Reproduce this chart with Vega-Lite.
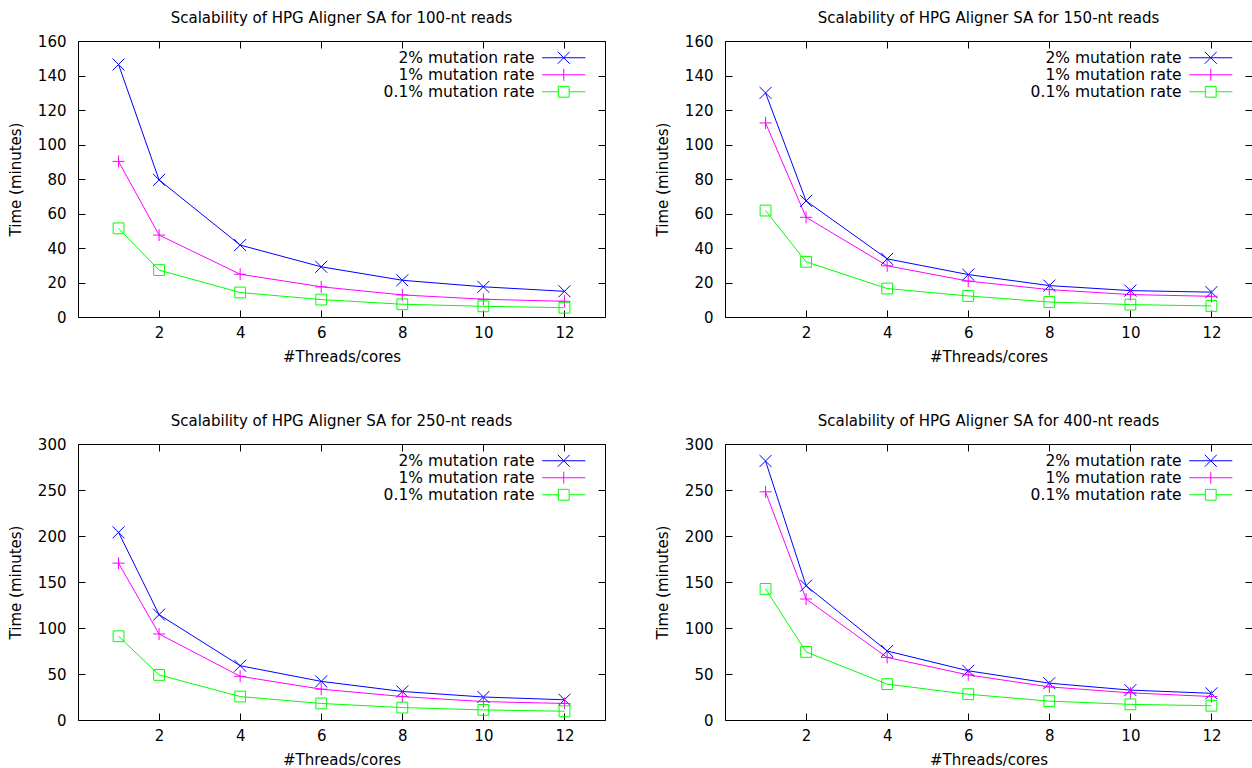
{
  "$schema": "https://vega.github.io/schema/vega-lite/v6.json",
  "padding": {"left": 7, "top": 10, "right": 0, "bottom": 0},
  "autosize": {"type": "pad"},
  "data": {"values": [
    {"reads": 100, "rate": "2% mutation rate", "threads": 1, "minutes": 146.4},
    {"reads": 100, "rate": "2% mutation rate", "threads": 2, "minutes": 79.5},
    {"reads": 100, "rate": "2% mutation rate", "threads": 4, "minutes": 41.7},
    {"reads": 100, "rate": "2% mutation rate", "threads": 6, "minutes": 29.1},
    {"reads": 100, "rate": "2% mutation rate", "threads": 8, "minutes": 21.3},
    {"reads": 100, "rate": "2% mutation rate", "threads": 10, "minutes": 17.5},
    {"reads": 100, "rate": "2% mutation rate", "threads": 12, "minutes": 14.9},
    {"reads": 100, "rate": "1% mutation rate", "threads": 1, "minutes": 90.2},
    {"reads": 100, "rate": "1% mutation rate", "threads": 2, "minutes": 47.5},
    {"reads": 100, "rate": "1% mutation rate", "threads": 4, "minutes": 24.8},
    {"reads": 100, "rate": "1% mutation rate", "threads": 6, "minutes": 17.5},
    {"reads": 100, "rate": "1% mutation rate", "threads": 8, "minutes": 12.8},
    {"reads": 100, "rate": "1% mutation rate", "threads": 10, "minutes": 10.3},
    {"reads": 100, "rate": "1% mutation rate", "threads": 12, "minutes": 9.1},
    {"reads": 100, "rate": "0.1% mutation rate", "threads": 1, "minutes": 51.4},
    {"reads": 100, "rate": "0.1% mutation rate", "threads": 2, "minutes": 27.2},
    {"reads": 100, "rate": "0.1% mutation rate", "threads": 4, "minutes": 14.2},
    {"reads": 100, "rate": "0.1% mutation rate", "threads": 6, "minutes": 10.1},
    {"reads": 100, "rate": "0.1% mutation rate", "threads": 8, "minutes": 7.4},
    {"reads": 100, "rate": "0.1% mutation rate", "threads": 10, "minutes": 6.2},
    {"reads": 100, "rate": "0.1% mutation rate", "threads": 12, "minutes": 5.4},
    {"reads": 150, "rate": "2% mutation rate", "threads": 1, "minutes": 129.9},
    {"reads": 150, "rate": "2% mutation rate", "threads": 2, "minutes": 67.3},
    {"reads": 150, "rate": "2% mutation rate", "threads": 4, "minutes": 33.7},
    {"reads": 150, "rate": "2% mutation rate", "threads": 6, "minutes": 24.6},
    {"reads": 150, "rate": "2% mutation rate", "threads": 8, "minutes": 18.2},
    {"reads": 150, "rate": "2% mutation rate", "threads": 10, "minutes": 15.3},
    {"reads": 150, "rate": "2% mutation rate", "threads": 12, "minutes": 14.4},
    {"reads": 150, "rate": "1% mutation rate", "threads": 1, "minutes": 112.5},
    {"reads": 150, "rate": "1% mutation rate", "threads": 2, "minutes": 57.8},
    {"reads": 150, "rate": "1% mutation rate", "threads": 4, "minutes": 29.7},
    {"reads": 150, "rate": "1% mutation rate", "threads": 6, "minutes": 20.8},
    {"reads": 150, "rate": "1% mutation rate", "threads": 8, "minutes": 15.9},
    {"reads": 150, "rate": "1% mutation rate", "threads": 10, "minutes": 13.0},
    {"reads": 150, "rate": "1% mutation rate", "threads": 12, "minutes": 12.0},
    {"reads": 150, "rate": "0.1% mutation rate", "threads": 1, "minutes": 61.7},
    {"reads": 150, "rate": "0.1% mutation rate", "threads": 2, "minutes": 32.0},
    {"reads": 150, "rate": "0.1% mutation rate", "threads": 4, "minutes": 16.5},
    {"reads": 150, "rate": "0.1% mutation rate", "threads": 6, "minutes": 12.2},
    {"reads": 150, "rate": "0.1% mutation rate", "threads": 8, "minutes": 8.7},
    {"reads": 150, "rate": "0.1% mutation rate", "threads": 10, "minutes": 7.2},
    {"reads": 150, "rate": "0.1% mutation rate", "threads": 12, "minutes": 6.4},
    {"reads": 250, "rate": "2% mutation rate", "threads": 1, "minutes": 204},
    {"reads": 250, "rate": "2% mutation rate", "threads": 2, "minutes": 114.5},
    {"reads": 250, "rate": "2% mutation rate", "threads": 4, "minutes": 59},
    {"reads": 250, "rate": "2% mutation rate", "threads": 6, "minutes": 42},
    {"reads": 250, "rate": "2% mutation rate", "threads": 8, "minutes": 31},
    {"reads": 250, "rate": "2% mutation rate", "threads": 10, "minutes": 25},
    {"reads": 250, "rate": "2% mutation rate", "threads": 12, "minutes": 22},
    {"reads": 250, "rate": "1% mutation rate", "threads": 1, "minutes": 170.5},
    {"reads": 250, "rate": "1% mutation rate", "threads": 2, "minutes": 93.5},
    {"reads": 250, "rate": "1% mutation rate", "threads": 4, "minutes": 47.5},
    {"reads": 250, "rate": "1% mutation rate", "threads": 6, "minutes": 33.5},
    {"reads": 250, "rate": "1% mutation rate", "threads": 8, "minutes": 25.5},
    {"reads": 250, "rate": "1% mutation rate", "threads": 10, "minutes": 20},
    {"reads": 250, "rate": "1% mutation rate", "threads": 12, "minutes": 18},
    {"reads": 250, "rate": "0.1% mutation rate", "threads": 1, "minutes": 91},
    {"reads": 250, "rate": "0.1% mutation rate", "threads": 2, "minutes": 49},
    {"reads": 250, "rate": "0.1% mutation rate", "threads": 4, "minutes": 25.5},
    {"reads": 250, "rate": "0.1% mutation rate", "threads": 6, "minutes": 18},
    {"reads": 250, "rate": "0.1% mutation rate", "threads": 8, "minutes": 13.5},
    {"reads": 250, "rate": "0.1% mutation rate", "threads": 10, "minutes": 11},
    {"reads": 250, "rate": "0.1% mutation rate", "threads": 12, "minutes": 9.5},
    {"reads": 400, "rate": "2% mutation rate", "threads": 1, "minutes": 281.5},
    {"reads": 400, "rate": "2% mutation rate", "threads": 2, "minutes": 146},
    {"reads": 400, "rate": "2% mutation rate", "threads": 4, "minutes": 75},
    {"reads": 400, "rate": "2% mutation rate", "threads": 6, "minutes": 53.5},
    {"reads": 400, "rate": "2% mutation rate", "threads": 8, "minutes": 40},
    {"reads": 400, "rate": "2% mutation rate", "threads": 10, "minutes": 32.5},
    {"reads": 400, "rate": "2% mutation rate", "threads": 12, "minutes": 29},
    {"reads": 400, "rate": "1% mutation rate", "threads": 1, "minutes": 248},
    {"reads": 400, "rate": "1% mutation rate", "threads": 2, "minutes": 131.5},
    {"reads": 400, "rate": "1% mutation rate", "threads": 4, "minutes": 68},
    {"reads": 400, "rate": "1% mutation rate", "threads": 6, "minutes": 49},
    {"reads": 400, "rate": "1% mutation rate", "threads": 8, "minutes": 36},
    {"reads": 400, "rate": "1% mutation rate", "threads": 10, "minutes": 29.5},
    {"reads": 400, "rate": "1% mutation rate", "threads": 12, "minutes": 25.5},
    {"reads": 400, "rate": "0.1% mutation rate", "threads": 1, "minutes": 142.5},
    {"reads": 400, "rate": "0.1% mutation rate", "threads": 2, "minutes": 74},
    {"reads": 400, "rate": "0.1% mutation rate", "threads": 4, "minutes": 39},
    {"reads": 400, "rate": "0.1% mutation rate", "threads": 6, "minutes": 28},
    {"reads": 400, "rate": "0.1% mutation rate", "threads": 8, "minutes": 20.5},
    {"reads": 400, "rate": "0.1% mutation rate", "threads": 10, "minutes": 17},
    {"reads": 400, "rate": "0.1% mutation rate", "threads": 12, "minutes": 15.5}
  ]},
  "columns": 2,
  "spacing": {"row": 127, "column": 120},
  "bounds": "flush",
  "resolve": {"scale": {"x": "independent", "y": "independent", "color": "independent"}, "legend": {"color": "independent"}},
  "concat": [
    {
      "title": "Scalability of HPG Aligner SA for 100-nt reads",
      "width": 527, "height": 276,
      "transform": [{"filter": "datum.reads === 100"}],
      "layer": [
        {"mark": {"type": "line", "strokeWidth": 1},
         "encoding": {
           "x": {"field": "threads", "type": "quantitative", "scale": {"domain": [0, 13], "nice": false, "zero": false}, "axis": {"orient": "bottom", "values": [2, 4, 6, 8, 10, 12], "title": "#Threads/cores"}},
           "y": {"field": "minutes", "type": "quantitative", "scale": {"domain": [0, 160], "nice": false}, "axis": {"orient": "left", "values": [0, 20, 40, 60, 80, 100, 120, 140, 160], "title": "Time (minutes)"}},
           "color": {"field": "rate", "type": "nominal", "scale": {"domain": ["2% mutation rate", "1% mutation rate", "0.1% mutation rate"], "range": ["#0000ff", "#ff00ff", "#00ff00"]},
             "legend": {"title": null, "orient": "top-right", "encode": {"symbols": {"update": {"shape": {"signal": "datum.value === '2% mutation rate' ? 'M-3.6,0L3.6,0M-1,-1L1,1M-1,1L1,-1M4.9,0' : datum.value === '1% mutation rate' ? 'M-3.6,0L3.6,0M0,-1L0,1M4.9,0' : 'M-3.6,0L-0.9,0M0.9,0L3.6,0M-0.9,-0.9L0.9,-0.9L0.9,0.9L-0.9,0.9ZM4.9,0'"}, "stroke": {"signal": "datum.value === '2% mutation rate' ? '#0000ff' : datum.value === '1% mutation rate' ? '#ff00ff' : '#00ff00'"}, "fill": {"value": "transparent"}, "strokeWidth": {"value": 1}, "opacity": {"value": 1}}}}}}
         }},
        {"transform": [{"filter": "datum.rate === '2% mutation rate'"}],
         "mark": {"type": "point", "filled": false, "strokeWidth": 1, "opacity": 1, "size": 144, "shape": "M-1,-1L1,1M-1,1L1,-1"},
         "encoding": {
           "x": {"field": "threads", "type": "quantitative", "axis": {"orient": "top", "values": [2, 4, 6, 8, 10, 12], "labels": false, "title": null}},
           "y": {"field": "minutes", "type": "quantitative", "axis": {"orient": "right", "values": [0, 20, 40, 60, 80, 100, 120, 140, 160], "labels": false, "title": null}},
           "color": {"field": "rate", "type": "nominal", "scale": {"domain": ["2% mutation rate", "1% mutation rate", "0.1% mutation rate"], "range": ["#0000ff", "#ff00ff", "#00ff00"]}, "legend": null}
         }},
        {"transform": [{"filter": "datum.rate === '1% mutation rate'"}],
         "mark": {"type": "point", "filled": false, "strokeWidth": 1, "opacity": 1, "size": 144, "shape": "M-1,0L1,0M0,-1L0,1"},
         "encoding": {
           "x": {"field": "threads", "type": "quantitative", "axis": null},
           "y": {"field": "minutes", "type": "quantitative", "axis": null},
           "color": {"field": "rate", "type": "nominal", "scale": {"domain": ["2% mutation rate", "1% mutation rate", "0.1% mutation rate"], "range": ["#0000ff", "#ff00ff", "#00ff00"]}, "legend": null}
         }},
        {"transform": [{"filter": "datum.rate === '0.1% mutation rate'"}],
         "mark": {"type": "point", "filled": false, "strokeWidth": 1, "opacity": 1, "size": 144, "shape": "M-0.9,-0.9L0.9,-0.9L0.9,0.9L-0.9,0.9Z"},
         "encoding": {
           "x": {"field": "threads", "type": "quantitative", "axis": null},
           "y": {"field": "minutes", "type": "quantitative", "axis": null},
           "color": {"field": "rate", "type": "nominal", "scale": {"domain": ["2% mutation rate", "1% mutation rate", "0.1% mutation rate"], "range": ["#0000ff", "#ff00ff", "#00ff00"]}, "legend": null}
         }}
      ],
      "resolve": {"axis": {"x": "independent", "y": "independent"}}
    },
    {
      "title": "Scalability of HPG Aligner SA for 150-nt reads",
      "width": 527, "height": 276,
      "transform": [{"filter": "datum.reads === 150"}],
      "layer": [
        {"mark": {"type": "line", "strokeWidth": 1},
         "encoding": {
           "x": {"field": "threads", "type": "quantitative", "scale": {"domain": [0, 13], "nice": false, "zero": false}, "axis": {"orient": "bottom", "values": [2, 4, 6, 8, 10, 12], "title": "#Threads/cores"}},
           "y": {"field": "minutes", "type": "quantitative", "scale": {"domain": [0, 160], "nice": false}, "axis": {"orient": "left", "values": [0, 20, 40, 60, 80, 100, 120, 140, 160], "title": "Time (minutes)"}},
           "color": {"field": "rate", "type": "nominal", "scale": {"domain": ["2% mutation rate", "1% mutation rate", "0.1% mutation rate"], "range": ["#0000ff", "#ff00ff", "#00ff00"]},
             "legend": {"title": null, "orient": "top-right", "encode": {"symbols": {"update": {"shape": {"signal": "datum.value === '2% mutation rate' ? 'M-3.6,0L3.6,0M-1,-1L1,1M-1,1L1,-1M4.9,0' : datum.value === '1% mutation rate' ? 'M-3.6,0L3.6,0M0,-1L0,1M4.9,0' : 'M-3.6,0L-0.9,0M0.9,0L3.6,0M-0.9,-0.9L0.9,-0.9L0.9,0.9L-0.9,0.9ZM4.9,0'"}, "stroke": {"signal": "datum.value === '2% mutation rate' ? '#0000ff' : datum.value === '1% mutation rate' ? '#ff00ff' : '#00ff00'"}, "fill": {"value": "transparent"}, "strokeWidth": {"value": 1}, "opacity": {"value": 1}}}}}}
         }},
        {"transform": [{"filter": "datum.rate === '2% mutation rate'"}],
         "mark": {"type": "point", "filled": false, "strokeWidth": 1, "opacity": 1, "size": 144, "shape": "M-1,-1L1,1M-1,1L1,-1"},
         "encoding": {
           "x": {"field": "threads", "type": "quantitative", "axis": {"orient": "top", "values": [2, 4, 6, 8, 10, 12], "labels": false, "title": null}},
           "y": {"field": "minutes", "type": "quantitative", "axis": {"orient": "right", "values": [0, 20, 40, 60, 80, 100, 120, 140, 160], "labels": false, "title": null}},
           "color": {"field": "rate", "type": "nominal", "scale": {"domain": ["2% mutation rate", "1% mutation rate", "0.1% mutation rate"], "range": ["#0000ff", "#ff00ff", "#00ff00"]}, "legend": null}
         }},
        {"transform": [{"filter": "datum.rate === '1% mutation rate'"}],
         "mark": {"type": "point", "filled": false, "strokeWidth": 1, "opacity": 1, "size": 144, "shape": "M-1,0L1,0M0,-1L0,1"},
         "encoding": {
           "x": {"field": "threads", "type": "quantitative", "axis": null},
           "y": {"field": "minutes", "type": "quantitative", "axis": null},
           "color": {"field": "rate", "type": "nominal", "scale": {"domain": ["2% mutation rate", "1% mutation rate", "0.1% mutation rate"], "range": ["#0000ff", "#ff00ff", "#00ff00"]}, "legend": null}
         }},
        {"transform": [{"filter": "datum.rate === '0.1% mutation rate'"}],
         "mark": {"type": "point", "filled": false, "strokeWidth": 1, "opacity": 1, "size": 144, "shape": "M-0.9,-0.9L0.9,-0.9L0.9,0.9L-0.9,0.9Z"},
         "encoding": {
           "x": {"field": "threads", "type": "quantitative", "axis": null},
           "y": {"field": "minutes", "type": "quantitative", "axis": null},
           "color": {"field": "rate", "type": "nominal", "scale": {"domain": ["2% mutation rate", "1% mutation rate", "0.1% mutation rate"], "range": ["#0000ff", "#ff00ff", "#00ff00"]}, "legend": null}
         }}
      ],
      "resolve": {"axis": {"x": "independent", "y": "independent"}}
    },
    {
      "title": "Scalability of HPG Aligner SA for 250-nt reads",
      "width": 527, "height": 276,
      "transform": [{"filter": "datum.reads === 250"}],
      "layer": [
        {"mark": {"type": "line", "strokeWidth": 1},
         "encoding": {
           "x": {"field": "threads", "type": "quantitative", "scale": {"domain": [0, 13], "nice": false, "zero": false}, "axis": {"orient": "bottom", "values": [2, 4, 6, 8, 10, 12], "title": "#Threads/cores"}},
           "y": {"field": "minutes", "type": "quantitative", "scale": {"domain": [0, 300], "nice": false}, "axis": {"orient": "left", "values": [0, 50, 100, 150, 200, 250, 300], "title": "Time (minutes)"}},
           "color": {"field": "rate", "type": "nominal", "scale": {"domain": ["2% mutation rate", "1% mutation rate", "0.1% mutation rate"], "range": ["#0000ff", "#ff00ff", "#00ff00"]},
             "legend": {"title": null, "orient": "top-right", "encode": {"symbols": {"update": {"shape": {"signal": "datum.value === '2% mutation rate' ? 'M-3.6,0L3.6,0M-1,-1L1,1M-1,1L1,-1M4.9,0' : datum.value === '1% mutation rate' ? 'M-3.6,0L3.6,0M0,-1L0,1M4.9,0' : 'M-3.6,0L-0.9,0M0.9,0L3.6,0M-0.9,-0.9L0.9,-0.9L0.9,0.9L-0.9,0.9ZM4.9,0'"}, "stroke": {"signal": "datum.value === '2% mutation rate' ? '#0000ff' : datum.value === '1% mutation rate' ? '#ff00ff' : '#00ff00'"}, "fill": {"value": "transparent"}, "strokeWidth": {"value": 1}, "opacity": {"value": 1}}}}}}
         }},
        {"transform": [{"filter": "datum.rate === '2% mutation rate'"}],
         "mark": {"type": "point", "filled": false, "strokeWidth": 1, "opacity": 1, "size": 144, "shape": "M-1,-1L1,1M-1,1L1,-1"},
         "encoding": {
           "x": {"field": "threads", "type": "quantitative", "axis": {"orient": "top", "values": [2, 4, 6, 8, 10, 12], "labels": false, "title": null}},
           "y": {"field": "minutes", "type": "quantitative", "axis": {"orient": "right", "values": [0, 50, 100, 150, 200, 250, 300], "labels": false, "title": null}},
           "color": {"field": "rate", "type": "nominal", "scale": {"domain": ["2% mutation rate", "1% mutation rate", "0.1% mutation rate"], "range": ["#0000ff", "#ff00ff", "#00ff00"]}, "legend": null}
         }},
        {"transform": [{"filter": "datum.rate === '1% mutation rate'"}],
         "mark": {"type": "point", "filled": false, "strokeWidth": 1, "opacity": 1, "size": 144, "shape": "M-1,0L1,0M0,-1L0,1"},
         "encoding": {
           "x": {"field": "threads", "type": "quantitative", "axis": null},
           "y": {"field": "minutes", "type": "quantitative", "axis": null},
           "color": {"field": "rate", "type": "nominal", "scale": {"domain": ["2% mutation rate", "1% mutation rate", "0.1% mutation rate"], "range": ["#0000ff", "#ff00ff", "#00ff00"]}, "legend": null}
         }},
        {"transform": [{"filter": "datum.rate === '0.1% mutation rate'"}],
         "mark": {"type": "point", "filled": false, "strokeWidth": 1, "opacity": 1, "size": 144, "shape": "M-0.9,-0.9L0.9,-0.9L0.9,0.9L-0.9,0.9Z"},
         "encoding": {
           "x": {"field": "threads", "type": "quantitative", "axis": null},
           "y": {"field": "minutes", "type": "quantitative", "axis": null},
           "color": {"field": "rate", "type": "nominal", "scale": {"domain": ["2% mutation rate", "1% mutation rate", "0.1% mutation rate"], "range": ["#0000ff", "#ff00ff", "#00ff00"]}, "legend": null}
         }}
      ],
      "resolve": {"axis": {"x": "independent", "y": "independent"}}
    },
    {
      "title": "Scalability of HPG Aligner SA for 400-nt reads",
      "width": 527, "height": 276,
      "transform": [{"filter": "datum.reads === 400"}],
      "layer": [
        {"mark": {"type": "line", "strokeWidth": 1},
         "encoding": {
           "x": {"field": "threads", "type": "quantitative", "scale": {"domain": [0, 13], "nice": false, "zero": false}, "axis": {"orient": "bottom", "values": [2, 4, 6, 8, 10, 12], "title": "#Threads/cores"}},
           "y": {"field": "minutes", "type": "quantitative", "scale": {"domain": [0, 300], "nice": false}, "axis": {"orient": "left", "values": [0, 50, 100, 150, 200, 250, 300], "title": "Time (minutes)"}},
           "color": {"field": "rate", "type": "nominal", "scale": {"domain": ["2% mutation rate", "1% mutation rate", "0.1% mutation rate"], "range": ["#0000ff", "#ff00ff", "#00ff00"]},
             "legend": {"title": null, "orient": "top-right", "encode": {"symbols": {"update": {"shape": {"signal": "datum.value === '2% mutation rate' ? 'M-3.6,0L3.6,0M-1,-1L1,1M-1,1L1,-1M4.9,0' : datum.value === '1% mutation rate' ? 'M-3.6,0L3.6,0M0,-1L0,1M4.9,0' : 'M-3.6,0L-0.9,0M0.9,0L3.6,0M-0.9,-0.9L0.9,-0.9L0.9,0.9L-0.9,0.9ZM4.9,0'"}, "stroke": {"signal": "datum.value === '2% mutation rate' ? '#0000ff' : datum.value === '1% mutation rate' ? '#ff00ff' : '#00ff00'"}, "fill": {"value": "transparent"}, "strokeWidth": {"value": 1}, "opacity": {"value": 1}}}}}}
         }},
        {"transform": [{"filter": "datum.rate === '2% mutation rate'"}],
         "mark": {"type": "point", "filled": false, "strokeWidth": 1, "opacity": 1, "size": 144, "shape": "M-1,-1L1,1M-1,1L1,-1"},
         "encoding": {
           "x": {"field": "threads", "type": "quantitative", "axis": {"orient": "top", "values": [2, 4, 6, 8, 10, 12], "labels": false, "title": null}},
           "y": {"field": "minutes", "type": "quantitative", "axis": {"orient": "right", "values": [0, 50, 100, 150, 200, 250, 300], "labels": false, "title": null}},
           "color": {"field": "rate", "type": "nominal", "scale": {"domain": ["2% mutation rate", "1% mutation rate", "0.1% mutation rate"], "range": ["#0000ff", "#ff00ff", "#00ff00"]}, "legend": null}
         }},
        {"transform": [{"filter": "datum.rate === '1% mutation rate'"}],
         "mark": {"type": "point", "filled": false, "strokeWidth": 1, "opacity": 1, "size": 144, "shape": "M-1,0L1,0M0,-1L0,1"},
         "encoding": {
           "x": {"field": "threads", "type": "quantitative", "axis": null},
           "y": {"field": "minutes", "type": "quantitative", "axis": null},
           "color": {"field": "rate", "type": "nominal", "scale": {"domain": ["2% mutation rate", "1% mutation rate", "0.1% mutation rate"], "range": ["#0000ff", "#ff00ff", "#00ff00"]}, "legend": null}
         }},
        {"transform": [{"filter": "datum.rate === '0.1% mutation rate'"}],
         "mark": {"type": "point", "filled": false, "strokeWidth": 1, "opacity": 1, "size": 144, "shape": "M-0.9,-0.9L0.9,-0.9L0.9,0.9L-0.9,0.9Z"},
         "encoding": {
           "x": {"field": "threads", "type": "quantitative", "axis": null},
           "y": {"field": "minutes", "type": "quantitative", "axis": null},
           "color": {"field": "rate", "type": "nominal", "scale": {"domain": ["2% mutation rate", "1% mutation rate", "0.1% mutation rate"], "range": ["#0000ff", "#ff00ff", "#00ff00"]}, "legend": null}
         }}
      ],
      "resolve": {"axis": {"x": "independent", "y": "independent"}}
    }
  ],
  "config": {
    "font": "DejaVu Sans",
    "view": {"stroke": "black", "strokeWidth": 1},
    "axis": {"grid": false, "domain": false, "tickColor": "black", "tickSize": -7, "tickWidth": 1, "labelFont": "DejaVu Sans", "labelFontSize": 15, "labelColor": "black", "titleFont": "DejaVu Sans", "titleFontSize": 15, "titleFontWeight": "normal", "titleColor": "black"},
    "axisX": {"labelPadding": 15, "titlePadding": 9},
    "axisY": {"labelPadding": 19, "titlePadding": 14},
    "title": {"font": "DejaVu Sans", "fontSize": 15, "fontWeight": "normal", "color": "black", "offset": 8, "baseline": "alphabetic", "anchor": "middle"},
    "legend": {"offset": 9, "padding": 0, "labelFont": "DejaVu Sans", "labelFontSize": 15.5, "labelColor": "black", "labelAlign": "right", "labelOffset": -37, "rowPadding": -2.5, "symbolSize": 144, "symbolStrokeWidth": 1}
  }
}
